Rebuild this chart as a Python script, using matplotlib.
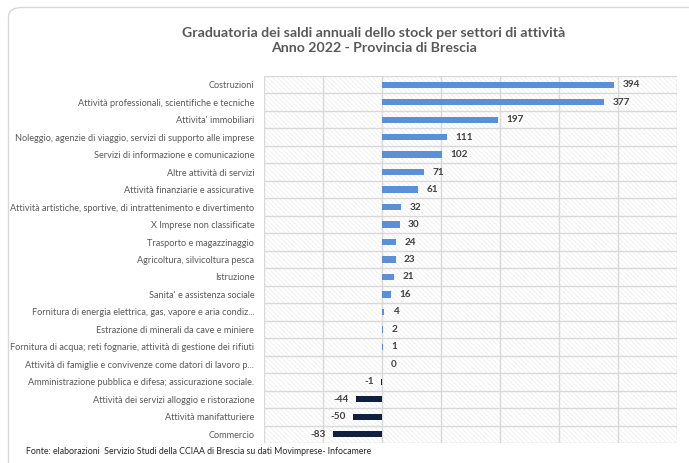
import matplotlib
matplotlib.use("Agg")
import matplotlib.pyplot as plt
from matplotlib.patches import Rectangle, FancyBboxPatch

categories = [
    "Costruzioni",
    "Attività professionali, scientifiche e tecniche",
    "Attivita' immobiliari",
    "Noleggio, agenzie di viaggio, servizi di supporto alle imprese",
    "Servizi di informazione e comunicazione",
    "Altre attività di servizi",
    "Attività finanziarie e assicurative",
    "Attività artistiche, sportive, di intrattenimento e divertimento",
    "X Imprese non classificate",
    "Trasporto e magazzinaggio",
    "Agricoltura, silvicoltura pesca",
    "Istruzione",
    "Sanita' e assistenza sociale",
    "Fornitura di energia elettrica, gas, vapore e aria condiz...",
    "Estrazione di minerali da cave e miniere",
    "Fornitura di acqua; reti fognarie, attività di gestione dei rifiuti",
    "Attività di famiglie e convivenze come datori di lavoro p...",
    "Amministrazione pubblica e difesa; assicurazione sociale.",
    "Attività dei servizi alloggio e ristorazione",
    "Attività manifatturiere",
    "Commercio",
]
values = [394, 377, 197, 111, 102, 71, 61, 32, 30, 24, 23, 21, 16, 4, 2, 1, 0, -1, -44, -50, -83]
xticks = [-200, -100, 0, 100, 200, 300, 400, 500]

title = "Graduatoria dei saldi annuali dello stock per settori di attività\nAnno 2022 - Provincia di Brescia"
source = "Fonte: elaborazioni  Servizio Studi della CCIAA di Brescia su dati Movimprese- Infocamere"

FONT = ["Lato", "DejaVu Sans"]
plt.rcParams['font.family'] = FONT
plt.rcParams['hatch.linewidth'] = 0.35

W, H = 689, 463
fig = plt.figure(figsize=(W / 100, H / 100), dpi=100)

# outer rounded border
border = FancyBboxPatch((8.5 / W, -0.1), 1.2, 1.1 - 7.5 / H,
                        boxstyle="round,pad=0,rounding_size=0.02",
                        transform=fig.transFigure, fill=False,
                        edgecolor="#D9D9D9", linewidth=1.0, clip_on=False)
fig.patches.append(border)

left, right, top, bottom = 264, 677, 76, 443
ax = fig.add_axes([left / W, 1 - bottom / H, (right - left) / W, (bottom - top) / H])

n = len(categories)
ax.set_xlim(xticks[0], xticks[-1])
ax.set_ylim(n - 0.5, -0.5)

# hatched background
ax.add_patch(Rectangle((xticks[0], -0.5), xticks[-1] - xticks[0], n,
                       facecolor="white", edgecolor="#E6E6E6", hatch="\\\\\\\\\\\\\\",
                       linewidth=0, zorder=0))

for x in xticks:
    ax.axvline(x, color="#D9D9D9", lw=1.0, zorder=1)
for k in range(n + 1):
    ax.axhline(k - 0.5, color="#D9D9D9", lw=1.0, zorder=1)

colors = ["#5B8FD8" if v >= 0 else "#0F2040" for v in values]
ypos = list(range(n))
ax.barh(ypos, values, height=0.36, color=colors, zorder=3)

for y, v in zip(ypos, values):
    if v >= 0:
        ax.annotate(str(v), (v, y), xytext=(6, 0), textcoords="offset points",
                    ha="left", va="center", fontsize=7.2, fontweight="bold", color="#404040")
    else:
        ax.annotate(str(v), (v, y), xytext=(-5, 0), textcoords="offset points",
                    ha="right", va="center", fontsize=7.2, fontweight="bold", color="#404040")

ax.set_yticks(ypos)
ax.set_yticklabels(categories, fontsize=6.6, color="#595959")
ax.tick_params(axis="y", length=0, pad=7)
ax.set_xticks([])
for s in ax.spines.values():
    s.set_visible(False)

fig.text(374 / W, 1 - 40.5 / H, title, ha="center", va="center", fontsize=10.2,
         fontweight="bold", color="#595959", linespacing=1.3)
fig.text(26 / W, 1 - 452 / H, source, ha="left", va="center", fontsize=6.3, color="#262626")

fig.savefig("out.png", dpi=100)
